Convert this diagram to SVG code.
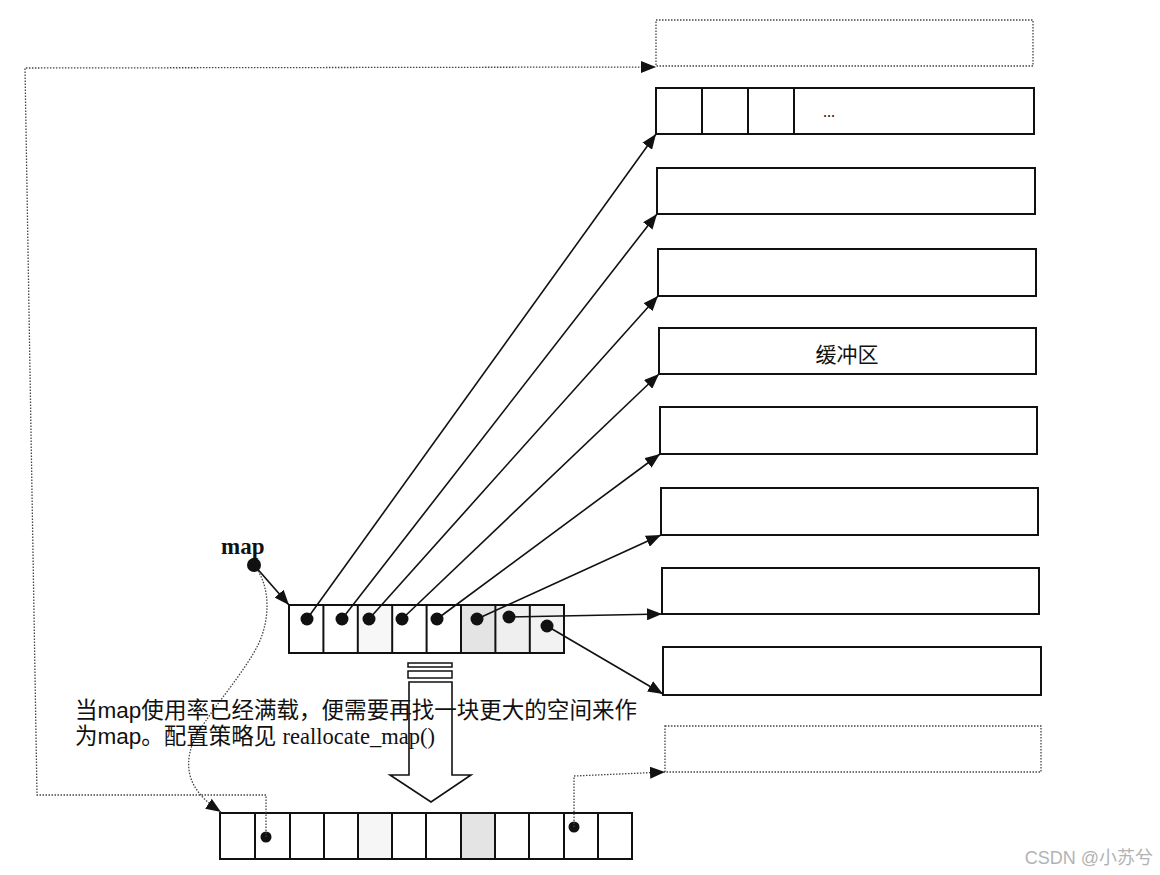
<svg xmlns="http://www.w3.org/2000/svg" width="1160" height="875" viewBox="0 0 1160 875">
<style>
.box{fill:#fff;stroke:#111;stroke-width:2}
.dbox{fill:none;stroke:#444;stroke-width:1.3;stroke-dasharray:1.5 1.5}
.outl{fill:none;stroke:#111;stroke-width:2}
.div{stroke:#111;stroke-width:2}
.ln{stroke:#111;stroke-width:1.6;fill:none}
.dl{stroke:#444;stroke-width:1.3;fill:none;stroke-dasharray:1.5 1.5}
.dot{fill:#111}
.cn{font-family:"Liberation Sans","Noto Sans CJK SC",sans-serif;fill:#111}
.tm{font-family:"Liberation Serif","Noto Sans CJK SC",serif;fill:#111}
</style>
<defs>
<marker id="ah" markerUnits="userSpaceOnUse" markerWidth="15" markerHeight="12" refX="15" refY="6" orient="auto">
<path d="M0,0 L15,6 L0,12 z" fill="#111"/>
</marker>
</defs>
<rect width="1160" height="875" fill="#fff"/>

<g id="buf0"><rect class="dbox" x="656" y="20" width="377" height="46"/></g>
<g id="buf1"><rect class="box" x="656" y="88" width="378" height="46"/>
<line class="div" x1="702" y1="88" x2="702" y2="134"/><line class="div" x1="748" y1="88" x2="748" y2="134"/><line class="div" x1="794" y1="88" x2="794" y2="134"/>
<text class="tm" x="829" y="117" font-size="16" text-anchor="middle">...</text></g>
<g id="buf2"><rect class="box" x="657" y="168" width="378" height="46"/></g>
<g id="buf3"><rect class="box" x="658" y="249" width="378" height="47"/></g>
<g id="buf4"><rect class="box" x="659" y="328" width="377" height="46"/>
<text class="cn" x="847" y="362" font-size="21" text-anchor="middle">缓冲区</text></g>
<g id="buf5"><rect class="box" x="660" y="407" width="377" height="47"/></g>
<g id="buf6"><rect class="box" x="661" y="488" width="377" height="47"/></g>
<g id="buf7"><rect class="box" x="662" y="568" width="377" height="46"/></g>
<g id="buf8"><rect class="box" x="663" y="647" width="378" height="48"/></g>
<g id="buf9"><rect class="dbox" x="665" y="726" width="376" height="46"/></g>

<g id="map-label">
<text class="tm" x="221" y="554" font-size="23" font-weight="bold">map</text>
<circle class="dot" cx="254" cy="565" r="7"/>
</g>

<g id="map-array">
<rect x="289" y="605" width="275" height="48" fill="#fff"/>
<rect x="462" y="606" width="33" height="46" fill="#e4e4e4"/>
<rect x="496" y="606" width="33" height="46" fill="#efefef"/>
<rect x="531" y="606" width="32" height="46" fill="#f2f2f2"/>
<rect x="359" y="606" width="33" height="46" fill="#f7f7f7"/>
<g class="div">
<line x1="323.4" y1="605" x2="323.4" y2="653"/><line x1="357.8" y1="605" x2="357.8" y2="653"/>
<line x1="392.2" y1="605" x2="392.2" y2="653"/><line x1="426.6" y1="605" x2="426.6" y2="653"/>
<line x1="461" y1="605" x2="461" y2="653"/><line x1="495.4" y1="605" x2="495.4" y2="653"/>
<line x1="529.8" y1="605" x2="529.8" y2="653"/>
</g>
<rect class="outl" x="289" y="605" width="275" height="48"/>
<circle class="dot" cx="307" cy="619" r="6.5"/><circle class="dot" cx="342" cy="619" r="6.5"/>
<circle class="dot" cx="369" cy="619" r="6.5"/><circle class="dot" cx="402" cy="619" r="6.5"/>
<circle class="dot" cx="437" cy="619" r="6.5"/><circle class="dot" cx="477" cy="619" r="6.5"/>
<circle class="dot" cx="509" cy="617" r="6.5"/><circle class="dot" cx="547" cy="626" r="6.5"/>
</g>

<g id="new-map-array">
<rect x="220" y="813" width="412" height="46" fill="#fff"/>
<rect x="462" y="814" width="32" height="44" fill="#e4e4e4"/>
<rect x="359" y="814" width="32" height="44" fill="#f6f6f6"/>
<g class="div">
<line x1="255" y1="813" x2="255" y2="859"/><line x1="290" y1="813" x2="290" y2="859"/>
<line x1="324" y1="813" x2="324" y2="859"/><line x1="358" y1="813" x2="358" y2="859"/>
<line x1="392" y1="813" x2="392" y2="859"/><line x1="426" y1="813" x2="426" y2="859"/>
<line x1="461" y1="813" x2="461" y2="859"/><line x1="495" y1="813" x2="495" y2="859"/>
<line x1="529" y1="813" x2="529" y2="859"/><line x1="564" y1="813" x2="564" y2="859"/>
<line x1="598" y1="813" x2="598" y2="859"/>
</g>
<rect class="outl" x="220" y="813" width="412" height="46"/>
<circle class="dot" cx="266" cy="837" r="5.5"/>
<circle class="dot" cx="574" cy="827" r="5.5"/>
</g>

<g id="realloc-arrow">
<rect x="408" y="663" width="44" height="4" fill="#fff" stroke="#111" stroke-width="1.5"/>
<rect x="408" y="671" width="44" height="7" fill="#fff" stroke="#111" stroke-width="1.5"/>
<path d="M409,682 L452,682 L452,775 L471,775 L431,802 L390,775 L409,775 Z" fill="#fff" stroke="#111" stroke-width="1.6"/>
</g>

<g id="connectors">
<line class="ln" x1="307" y1="619" x2="656" y2="134" marker-end="url(#ah)"/>
<line class="ln" x1="342" y1="619" x2="657" y2="214" marker-end="url(#ah)"/>
<line class="ln" x1="369" y1="619" x2="658" y2="296" marker-end="url(#ah)"/>
<line class="ln" x1="402" y1="619" x2="659" y2="374" marker-end="url(#ah)"/>
<line class="ln" x1="437" y1="619" x2="660" y2="454" marker-end="url(#ah)"/>
<line class="ln" x1="477" y1="619" x2="661" y2="535" marker-end="url(#ah)"/>
<line class="ln" x1="509" y1="617" x2="662" y2="614" marker-end="url(#ah)"/>
<line class="ln" x1="547" y1="626" x2="663" y2="694" marker-end="url(#ah)"/>
<line class="ln" x1="254" y1="565" x2="289" y2="605" marker-end="url(#ah)"/>
<path class="dl" d="M258,571 C270,590 270,620 258,645 C240,680 205,715 192,745 C182,775 195,795 221,812" marker-end="url(#ah)"/>
<polyline class="dl" points="266,837 266,795 37,795 25,68 656,67" marker-end="url(#ah)"/>
<polyline class="dl" points="574,827 574,776 665,772" marker-end="url(#ah)"/>
</g>

<g id="caption">
<text class="cn" x="75" y="718" font-size="22.5" textLength="562" lengthAdjust="spacingAndGlyphs">当map使用率已经满载，便需要再找一块更大的空间来作</text>
<text x="75" y="744" font-size="22.5" fill="#111"><tspan class="cn">为map。配置策略见 </tspan><tspan class="tm">reallocate_map()</tspan></text>
</g>

<g id="watermark">
<text x="1153" y="864" font-size="18" text-anchor="end" fill="#b3b3b3" font-family="'Liberation Sans','Noto Sans CJK SC',sans-serif">CSDN @小苏兮</text>
</g>
</svg>
